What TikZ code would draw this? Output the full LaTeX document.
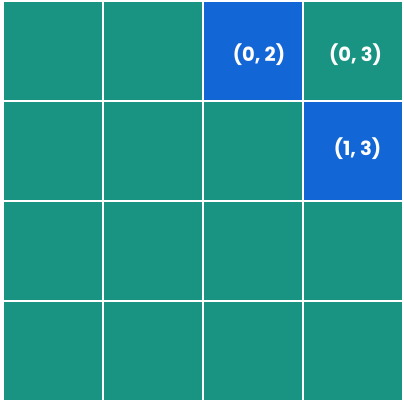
\documentclass[tikz,border=0pt]{standalone}
\usepackage{fontspec}
\setmainfont{Poppins}[BoldFont={* Bold}]
\definecolor{teal1}{HTML}{1A9482}
\definecolor{blue1}{HTML}{1366D6}
\begin{document}
\begin{tikzpicture}[x=1pt,y=-1pt,
  lbl/.style={text=white,font=\bfseries\fontsize{19.5}{22}\selectfont,inner sep=0pt}]
\useasboundingbox[fill=white] (0,0) rectangle (404,402);
\foreach \r in {0,...,3}{
  \foreach \c in {0,...,3}{
    \fill[teal1] (4+100*\c,2+100*\r) rectangle ++(98,98);
  }
}
\fill[blue1] (204,2) rectangle ++(98,98);
\fill[blue1] (304,102) rectangle ++(98,98);
\node[lbl] (a) at (259,55) {(0, 2)};
\node[lbl] (b) at (355.5,55) {(0, 3)};
\node[lbl] (c) at (357.5,149) {(1, 3)};
\end{tikzpicture}
\end{document}
